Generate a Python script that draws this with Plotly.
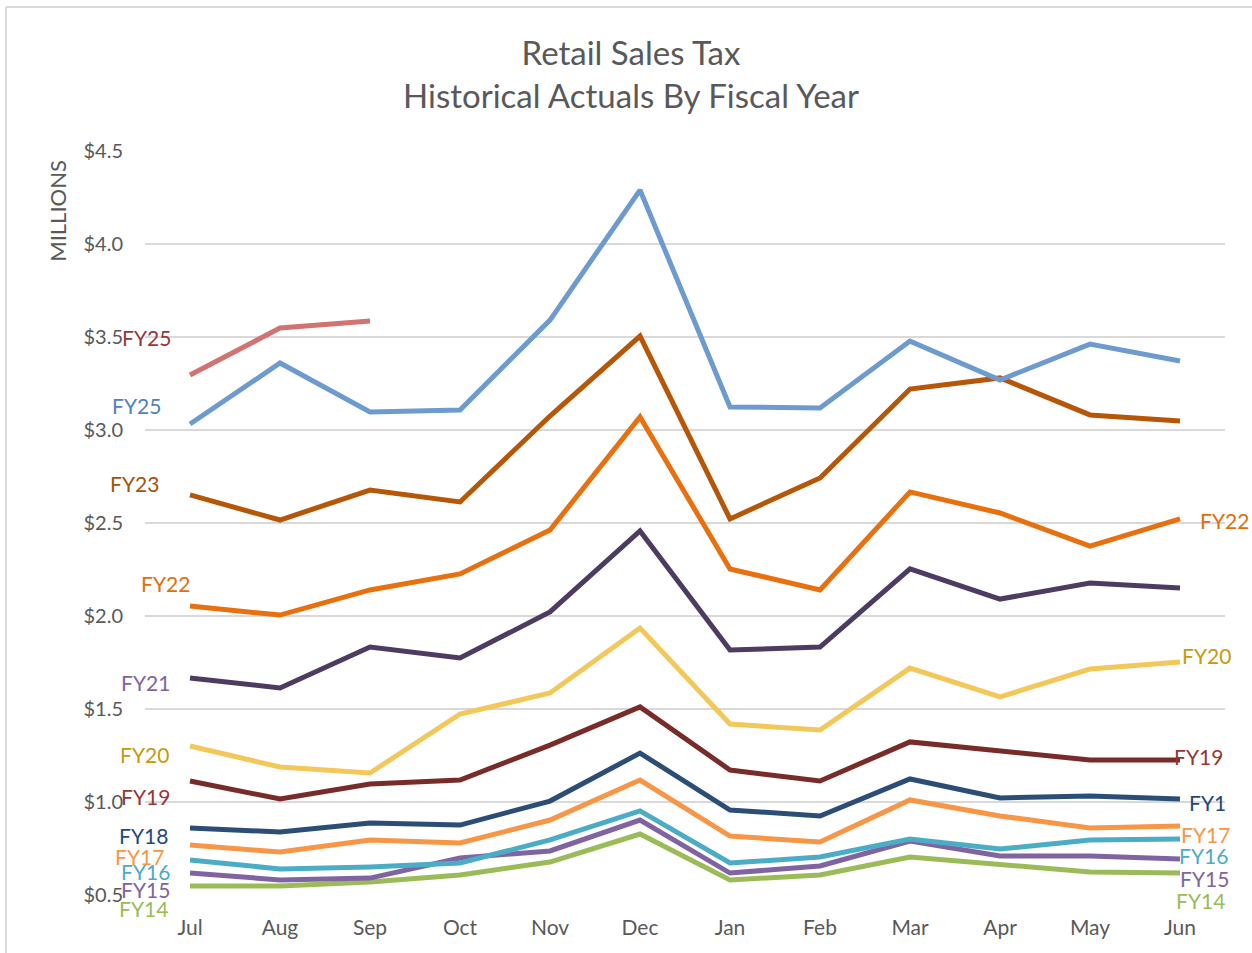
import plotly.graph_objects as go

months = ["Jul", "Aug", "Sep", "Oct", "Nov", "Dec", "Jan", "Feb", "Mar", "Apr", "May", "Jun"]

fy25_current = [3.296, 3.548, 3.586]
fy24 = [3.032, 3.36, 3.097, 3.108, 3.591, 4.29, 3.124, 3.118, 3.478, 3.269, 3.462, 3.371]
fy23 = [2.651, 2.516, 2.677, 2.613, 3.075, 3.505, 2.522, 2.742, 3.22, 3.28, 3.081, 3.048]
fy22 = [2.054, 2.005, 2.14, 2.226, 2.462, 3.07, 2.253, 2.14, 2.667, 2.554, 2.376, 2.522]
fy21 = [1.667, 1.613, 1.833, 1.774, 2.022, 2.457, 1.817, 1.833, 2.253, 2.091, 2.177, 2.15]
fy20 = [1.301, 1.188, 1.156, 1.473, 1.586, 1.935, 1.419, 1.387, 1.72, 1.565, 1.715, 1.753]
fy19 = [1.113, 1.016, 1.097, 1.118, 1.306, 1.511, 1.172, 1.113, 1.323, 1.274, 1.226, 1.226]
fy18 = [0.86, 0.839, 0.887, 0.876, 1.005, 1.263, 0.957, 0.925, 1.124, 1.022, 1.032, 1.016]
fy17 = [0.769, 0.731, 0.796, 0.78, 0.903, 1.118, 0.817, 0.785, 1.011, 0.925, 0.86, 0.871]
fy16 = [0.688, 0.640, 0.651, 0.672, 0.796, 0.952, 0.672, 0.704, 0.801, 0.747, 0.796, 0.801]
fy15 = [0.618, 0.581, 0.591, 0.699, 0.737, 0.903, 0.618, 0.656, 0.79, 0.71, 0.71, 0.694]
fy14 = [0.548, 0.548, 0.57, 0.608, 0.677, 0.828, 0.581, 0.608, 0.704, 0.661, 0.624, 0.618]

y_ticks = [0.5, 1.0, 1.5, 2.0, 2.5, 3.0, 3.5, 4.0, 4.5]
y_tick_labels = ["$0.5", "$1.0", "$1.5", "$2.0", "$2.5", "$3.0", "$3.5", "$4.0", "$4.5"]

series = [
    ("FY14", fy14, "#9BBB59"),
    ("FY15", fy15, "#8064A2"),
    ("FY16", fy16, "#4BACC6"),
    ("FY17", fy17, "#F79646"),
    ("FY18", fy18, "#2C4D75"),
    ("FY19", fy19, "#772C2A"),
    ("FY20", fy20, "#F2C85B"),
    ("FY21", fy21, "#4D3B62"),
    ("FY22", fy22, "#E8700F"),
    ("FY23", fy23, "#B65708"),
    ("FY24", fy24, "#6E9BCF"),
    ("FY25", fy25_current, "#D27372"),
]

# label text, colour, x (category index units), y (value units)
labels = [
    ("FY25", "#953735", -0.48, 3.50),
    ("FY25", "#4F81BD", -0.60, 3.134),
    ("FY23", "#A5520C", -0.62, 2.71),
    ("FY22", "#E46C0A", -0.27, 2.177),
    ("FY21", "#8064A2", -0.50, 1.64),
    ("FY20", "#C59A0E", -0.51, 1.258),
    ("FY19", "#953735", -0.50, 1.027),
    ("FY18", "#1F497D", -0.52, 0.82),
    ("FY17", "#F79646", -0.56, 0.705),
    ("FY16", "#4BACC6", -0.50, 0.625),
    ("FY15", "#8064A2", -0.50, 0.53),
    ("FY14", "#9BBB59", -0.52, 0.425),
    ("FY22", "#E46C0A", 11.49, 2.511),
    ("FY20", "#C59A0E", 11.29, 1.79),
    ("FY19", "#953735", 11.20, 1.247),
    ("FY1", "#1F497D", 11.31, 0.995),
    ("FY17", "#F79646", 11.28, 0.823),
    ("FY16", "#4BACC6", 11.26, 0.71),
    ("FY15", "#8064A2", 11.27, 0.591),
    ("FY14", "#9BBB59", 11.23, 0.468),
]

FONT = "Lato"
GREY = "#595959"
X_RANGE = [-0.5, 11.5]
Y_RANGE = [0.5, 4.5]

fig = go.Figure()
for name, vals, color in series:
    fig.add_trace(go.Scatter(
        x=months[:len(vals)], y=vals, mode="lines", name=name,
        line=dict(color=color, width=5), showlegend=False,
    ))

annotations = []
for text, color, x, y in labels:
    px = (x - X_RANGE[0]) / (X_RANGE[1] - X_RANGE[0])
    py = (y - Y_RANGE[0]) / (Y_RANGE[1] - Y_RANGE[0])
    annotations.append(dict(
        x=px, y=py, xref="paper", yref="paper", text=text, showarrow=False,
        font=dict(family=FONT, size=21, color=color),
        xanchor="center", yanchor="middle", borderpad=0,
    ))

annotations.append(dict(
    x=-0.081, y=0.919, xref="paper", yref="paper", text="MILLIONS",
    textangle=-90, showarrow=False,
    font=dict(family=FONT, size=22, color=GREY),
    xanchor="center", yanchor="middle",
))

fig.update_layout(
    width=1252, height=953,
    margin=dict(l=145, r=27, t=151, b=58),
    paper_bgcolor="white", plot_bgcolor="white",
    title=dict(
        text="Retail Sales Tax<br>Historical Actuals By Fiscal Year",
        x=0.504, xref="container", xanchor="center",
        y=1 - 65 / 953, yref="container", yanchor="middle",
        font=dict(family=FONT, size=33, color=GREY),
    ),
    xaxis=dict(
        type="category", categoryorder="array", categoryarray=months,
        range=X_RANGE, showgrid=False, zeroline=False, showline=False,
        ticks="", tickfont=dict(family=FONT, size=21, color=GREY),
        ticklabelstandoff=18,
    ),
    yaxis=dict(
        range=Y_RANGE, tickvals=y_ticks, ticktext=y_tick_labels,
        showgrid=True, gridcolor="#D9D9D9", gridwidth=2, zeroline=False,
        showline=False, ticks="", tickfont=dict(family=FONT, size=20, color=GREY),
        ticklabelstandoff=21,
    ),
    annotations=annotations,
    shapes=[
        dict(type="line", xref="paper", yref="paper",
             x0=(6 - 145) / 1080, x1=(1252 - 145) / 1080,
             y0=(895 - 7) / 744, y1=(895 - 7) / 744,
             line=dict(color="#D9D9D9", width=2)),
        dict(type="line", xref="paper", yref="paper",
             x0=(6 - 145) / 1080, x1=(6 - 145) / 1080,
             y0=(895 - 7) / 744, y1=(895 - 953) / 744,
             line=dict(color="#D9D9D9", width=2)),
    ],
)

fig.write_html(
    "out.html",
    config={"displayModeBar": False},
    post_script="document.body.style.margin='0';document.body.style.overflow='hidden';",
)
